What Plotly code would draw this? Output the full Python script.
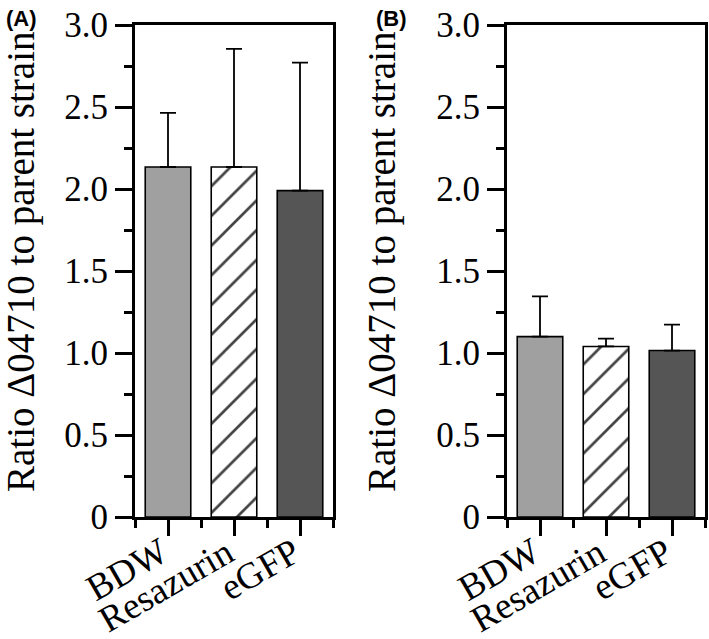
import plotly.graph_objects as go

categories = ["BDW", "Resazurin", "eGFP"]
values_a = [2.134, 2.134, 1.99]
err_a = [0.33, 0.72, 0.78]
values_b = [1.10, 1.04, 1.015]
err_b = [0.245, 0.048, 0.158]
ytick_vals = [0, 0.5, 1.0, 1.5, 2.0, 2.5, 3.0]
ytick_text = ["0", "0.5", "1.0", "1.5", "2.0", "2.5", "3.0"]
panel_labels = ["(A)", "(B)"]
y_title = "Ratio Δ04710 to parent strain"

W, H = 709, 639
fig = go.Figure()

positions = list(range(len(categories)))
fills = ["#a0a0a0", "white", "#555555"]
patterns = ["", "/", ""]

for k, (vals, errs) in enumerate([(values_a, err_a), (values_b, err_b)]):
    xa = "x" if k == 0 else "x2"
    ya = "y" if k == 0 else "y2"
    fig.add_trace(go.Bar(
        x=positions, y=vals, xaxis=xa, yaxis=ya, width=0.69,
        marker=dict(color=fills, line=dict(color="black", width=1.6),
                    pattern=dict(shape=patterns, fgcolor="black",
                                 fgopacity=1, fillmode="overlay",
                                 size=21, solidity=0.13)),
        error_y=dict(type="data", symmetric=False, array=errs,
                     arrayminus=[0] * len(errs), color="black", thickness=1.8, width=8),
        showlegend=False,
    ))

serif = "Liberation Serif, Times New Roman, serif"
common_x = dict(range=[-0.5, 2.5], tickvals=positions, ticktext=[""] * len(categories),
                ticks="outside", ticklen=16, tickwidth=3, tickcolor="black",
                showline=True, linewidth=3, linecolor="black", mirror=True,
                showgrid=False, zeroline=False, automargin=False,
                minor=dict(tickvals=[-0.5, 0.5, 1.5, 2.5], ticks="outside",
                           ticklen=8, tickwidth=3, tickcolor="black"),
                fixedrange=True)
common_y = dict(range=[0, 3.0], tickvals=ytick_vals, ticktext=ytick_text,
                ticks="outside", ticklen=17, tickwidth=3, tickcolor="black",
                showline=True, linewidth=3, linecolor="black", mirror=True,
                showgrid=False, zeroline=False, automargin=False,
                tickfont=dict(family=serif, size=35, color="black"),
                minor=dict(dtick=0.25, tick0=0, ticks="outside", ticklen=8,
                           tickwidth=3, tickcolor="black"),
                fixedrange=True)

dom_a = [135 / W, 333 / W]
dom_b = [507 / W, 705 / W]
fig.update_layout(
    width=W, height=H,
    margin=dict(l=0, r=0, t=25, b=122),
    plot_bgcolor="white", paper_bgcolor="white",
    xaxis=dict(domain=dom_a, anchor="y", **common_x),
    yaxis=dict(domain=[0, 1], anchor="x", **common_y),
    xaxis2=dict(domain=dom_b, anchor="y2", **common_x),
    yaxis2=dict(domain=[0, 1], anchor="x2", **common_y),
    bargap=0.31,
)

plot_h = H - 25 - 122
for k, (lx, tx) in enumerate([(21, 4), (382, 374)]):
    xref = "x" if k == 0 else "x2"
    fig.add_annotation(text=y_title, textangle=-90, xref="paper", yref="paper",
                       x=lx / W, y=(517 - 262) / plot_h, xanchor="center", yanchor="middle",
                       showarrow=False, font=dict(family=serif, size=39, color="black"))
    fig.add_annotation(text="<b>%s</b>" % panel_labels[k], xref="paper", yref="paper",
                       x=tx / W, y=(517 - 4) / plot_h, xanchor="left", yanchor="top",
                       showarrow=False,
                       font=dict(family="Liberation Sans, Arial, sans-serif", size=22, color="black"))
    for i, cat in enumerate(categories):
        fig.add_annotation(text=cat, textangle=-30, xref=xref, yref="paper",
                           x=positions[i], xshift=9, y=(517 - 528) / plot_h,
                           xanchor="right", yanchor="top", showarrow=False,
                           font=dict(family=serif, size=37, color="black"))

fig.write_html("out.html", post_script="document.body.style.margin='0px';",
               config={"displayModeBar": False})
